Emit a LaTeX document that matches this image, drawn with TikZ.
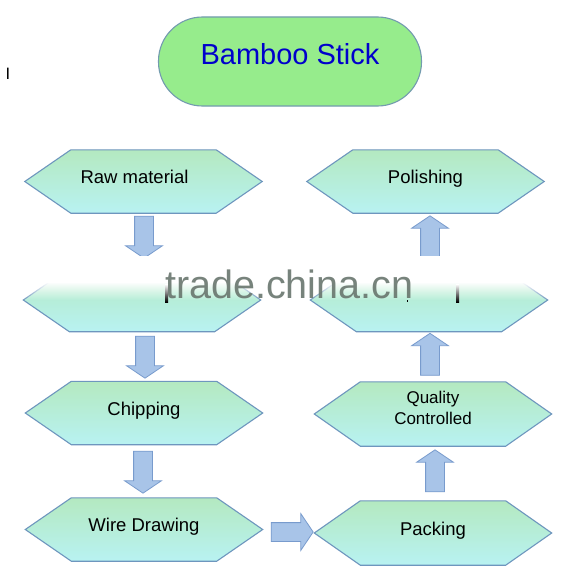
\documentclass[tikz,border=0pt]{standalone}
\usepackage{fontspec}
\setmainfont{Liberation Sans}
\usetikzlibrary{shapes.arrows,backgrounds,fadings}

\definecolor{hexline}{RGB}{110,150,190}
\definecolor{hextop}{RGB}{180,233,192}
\definecolor{hexbot}{RGB}{184,242,242}
\definecolor{arrfill}{RGB}{168,196,232}
\definecolor{arrline}{RGB}{120,155,205}
\definecolor{titlefill}{RGB}{150,236,140}
\definecolor{titleline}{RGB}{115,155,175}
\definecolor{titletext}{RGB}{0,0,204}
\definecolor{wmark}{RGB}{105,118,110}

\begin{document}
\begin{tikzpicture}[x=1pt,y=-1pt,
  stepbox/.style={rectangle, minimum width=145pt, minimum height=63pt, inner sep=0pt},
  steplabel/.style={font=\fontsize{18.5}{22}\selectfont, text height=13.5pt, text depth=4pt, yshift=2.5pt, inner sep=0pt},
  qclabel/.style={font=\fontsize{17}{21}\selectfont, align=center, yshift=6.5pt, inner sep=0pt},
  hexshape/.style={draw=hexline, line width=1.1pt, top color=hextop, bottom color=hexbot},
  blockarrow/.style={single arrow, draw=arrline, line width=0.8pt, fill=arrfill,
    single arrow head extend=9pt, single arrow tip angle=112,
    minimum height=42pt, inner xsep=0pt, inner ysep=9pt},
  titlebox/.style={rectangle, rounded corners=44pt, minimum width=263pt, minimum height=89pt,
    draw=titleline, line width=1.1pt, fill=titlefill},
  titlelabel/.style={text=titletext, font=\fontsize{29}{33}\selectfont, yshift=6.9pt, inner sep=0pt}
  ]
\useasboundingbox (0,0) rectangle (574,586);

% title
\node[titlebox, label={[titlelabel]center:Bamboo Stick}] (title) at (290,61.5) {};

% stray glyph
\node[font=\fontsize{16.5}{18}\selectfont, inner sep=0pt, anchor=base] (cursor) at (8,80) {I};

% steps, left column
\node[stepbox, label={[steplabel, xshift=-9pt]center:Raw material}] (raw) at (143.5,181.5) {};
\node[stepbox] (midl) at (142,300) {};
\node[stepbox, label={[steplabel]center:Chipping}] (chip) at (144,413) {};
\node[stepbox, label={[steplabel]center:Wire Drawing}] (wire) at (144,529.5) {};
% steps, right column
\node[stepbox, label={[steplabel]center:Polishing}] (pol) at (425.5,181.5) {};
\node[stepbox] (midr) at (429,300) {};
\node[stepbox, minimum height=64pt, label={[qclabel]center:Quality\\Controlled}] (qc) at (433,414) {};
\node[stepbox, minimum height=64pt, label={[steplabel]center:Packing}] (pack) at (433,533) {};

\begin{scope}[on background layer]
  \fill[white] (0,0) rectangle (574,586);
  \foreach \n in {raw,midl,chip,wire,pol,midr,qc,pack}
    \path[hexshape] ([xshift=-46pt]\n.west) -- (\n.north west) -- (\n.north east)
      -- ([xshift=46pt]\n.east) -- (\n.south east) -- (\n.south west) -- cycle;
\end{scope}

% block arrows
\node[blockarrow, rotate=-90] (a1) at (144,234) {};
\node[blockarrow, rotate=-90] (a2) at (145,354) {};
\node[blockarrow, rotate=-90] (a3) at (143,469) {};
\node[blockarrow] (a4) at (289,532) {};
\node[blockarrow, rotate=90] (a5) at (435,474) {};
\node[blockarrow, rotate=90] (a6) at (430,357.5) {};
\node[blockarrow, rotate=90] (a7) at (430,240) {};

% watermark band
\fill[white] (15,256) rectangle (560,282);
\fill[white, path fading=south] (15,282) rectangle (560,300);
\shade[top color=white, bottom color=black] (165,284) rectangle (168,302);
\shade[top color=white, bottom color=black] (456,284) rectangle (459,302);
\fill[black] (406.5,299.5) rectangle (408,302);
\node[anchor=base west, text=wmark, font=\fontsize{39.5}{44}\selectfont, inner sep=0pt, opacity=0.9] (wm) at (165,298) {trade.china.cn};
\end{tikzpicture}
\end{document}
